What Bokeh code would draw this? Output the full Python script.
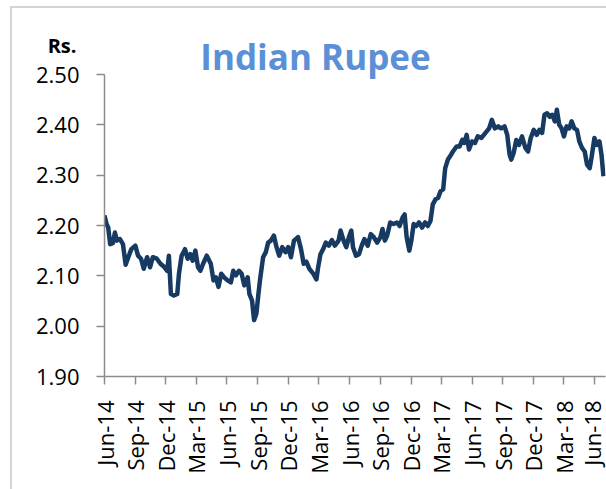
from datetime import datetime
import pandas as pd
from bokeh.plotting import figure
from bokeh.models import (Range1d, FixedTicker, DatetimeTickFormatter, NumeralTickFormatter,
                          Label, ColumnDataSource)
from bokeh.embed import file_html
from bokeh.resources import INLINE

title_text = "Indian Rupee"
unit_text = "Rs."

dates = [
    "2014-06-01", "2014-06-07", "2014-06-12", "2014-06-18", "2014-06-26", "2014-07-02", "2014-07-08",
    "2014-07-17", "2014-07-26", "2014-08-03", "2014-08-11", "2014-08-20", "2014-09-01", "2014-09-09",
    "2014-09-18", "2014-09-26", "2014-10-06", "2014-10-15", "2014-10-23", "2014-11-04", "2014-11-15",
    "2014-11-27", "2014-12-05", "2014-12-10", "2014-12-16", "2014-12-25", "2015-01-04", "2015-01-09",
    "2015-01-17", "2015-01-27", "2015-02-04", "2015-02-12", "2015-02-19", "2015-02-27", "2015-03-07",
    "2015-03-14", "2015-03-22", "2015-04-02", "2015-04-14", "2015-04-22", "2015-04-29", "2015-05-07",
    "2015-05-15", "2015-05-24", "2015-06-03", "2015-06-13", "2015-06-20", "2015-06-28", "2015-07-07",
    "2015-07-15", "2015-07-23", "2015-08-02", "2015-08-07", "2015-08-15", "2015-08-21", "2015-08-28",
    "2015-09-03", "2015-09-08", "2015-09-17", "2015-09-25", "2015-10-02", "2015-10-10", "2015-10-19",
    "2015-10-27", "2015-11-04", "2015-11-13", "2015-11-23", "2015-12-01", "2015-12-09", "2015-12-18",
    "2015-12-30", "2016-01-08", "2016-01-16", "2016-01-24", "2016-02-02", "2016-02-14", "2016-02-23",
    "2016-02-28", "2016-03-06", "2016-03-14", "2016-03-22", "2016-03-31", "2016-04-09", "2016-04-18",
    "2016-04-29", "2016-05-05", "2016-05-14", "2016-05-22", "2016-05-30", "2016-06-06", "2016-06-11",
    "2016-06-20", "2016-06-29", "2016-07-07", "2016-07-15", "2016-07-25", "2016-08-03", "2016-08-12",
    "2016-08-22", "2016-09-01", "2016-09-07", "2016-09-14", "2016-09-21", "2016-09-30", "2016-10-10",
    "2016-10-20", "2016-10-28", "2016-11-06", "2016-11-12", "2016-11-18", "2016-11-26", "2016-12-02",
    "2016-12-09", "2016-12-17", "2016-12-25", "2017-01-03", "2017-01-12", "2017-01-20", "2017-01-28",
    "2017-02-04", "2017-02-12", "2017-02-20", "2017-02-27", "2017-03-07", "2017-03-13", "2017-03-21",
    "2017-03-28", "2017-04-05", "2017-04-16", "2017-04-25", "2017-05-03", "2017-05-09", "2017-05-16",
    "2017-05-23", "2017-06-01", "2017-06-10", "2017-06-18", "2017-06-29", "2017-07-11", "2017-07-22",
    "2017-07-30", "2017-08-08", "2017-08-18", "2017-08-27", "2017-09-06", "2017-09-14", "2017-09-21",
    "2017-09-26", "2017-10-03", "2017-10-11", "2017-10-19", "2017-10-28", "2017-11-07", "2017-11-15",
    "2017-11-23", "2017-12-02", "2017-12-11", "2017-12-19", "2017-12-27", "2018-01-03", "2018-01-11",
    "2018-01-19", "2018-01-26", "2018-02-03", "2018-02-09", "2018-02-16", "2018-02-23", "2018-03-02",
    "2018-03-10", "2018-03-18", "2018-03-25", "2018-04-02", "2018-04-10", "2018-04-17", "2018-04-25",
    "2018-05-03", "2018-05-10", "2018-05-18", "2018-05-24", "2018-06-01", "2018-06-08", "2018-06-16",
    "2018-06-22", "2018-06-28",
]

rupee = [
    2.220, 2.203, 2.196, 2.163, 2.165, 2.186, 2.170,
    2.173, 2.163, 2.122, 2.137, 2.153, 2.160, 2.140,
    2.134, 2.114, 2.137, 2.117, 2.137, 2.134, 2.124,
    2.117, 2.110, 2.140, 2.064, 2.061, 2.064, 2.104,
    2.140, 2.153, 2.134, 2.143, 2.130, 2.150, 2.117,
    2.110, 2.124, 2.140, 2.124, 2.091, 2.097, 2.078,
    2.104, 2.097, 2.091, 2.087, 2.110, 2.101, 2.110,
    2.104, 2.081, 2.097, 2.064, 2.051, 2.012, 2.025,
    2.064, 2.093, 2.137, 2.147, 2.166, 2.170, 2.180,
    2.157, 2.140, 2.157, 2.147, 2.157, 2.137, 2.170,
    2.177, 2.153, 2.124, 2.128, 2.114, 2.104, 2.093,
    2.117, 2.143, 2.153, 2.166, 2.160, 2.171, 2.160,
    2.170, 2.190, 2.170, 2.157, 2.177, 2.190, 2.157,
    2.140, 2.143, 2.160, 2.173, 2.160, 2.183, 2.177,
    2.166, 2.177, 2.193, 2.170, 2.180, 2.206, 2.203,
    2.206, 2.199, 2.216, 2.222, 2.177, 2.150, 2.170,
    2.203, 2.199, 2.206, 2.196, 2.206, 2.199, 2.209,
    2.242, 2.252, 2.255, 2.268, 2.272, 2.314, 2.331,
    2.338, 2.347, 2.357, 2.357, 2.370, 2.364, 2.380,
    2.351, 2.367, 2.364, 2.377, 2.374, 2.384, 2.393,
    2.410, 2.393, 2.397, 2.393, 2.397, 2.380, 2.341,
    2.331, 2.344, 2.370, 2.360, 2.377, 2.354, 2.347,
    2.374, 2.390, 2.380, 2.390, 2.384, 2.420, 2.423,
    2.416, 2.420, 2.407, 2.430, 2.400, 2.393, 2.377,
    2.397, 2.393, 2.407, 2.393, 2.390, 2.367, 2.354,
    2.347, 2.321, 2.314, 2.338, 2.374, 2.360, 2.367,
    2.341, 2.298,
]

tick_dates = ["2014-06-01", "2014-09-01", "2014-12-01", "2015-03-01", "2015-06-01", "2015-09-01",
              "2015-12-01", "2016-03-01", "2016-06-01", "2016-09-01", "2016-12-01", "2017-03-01",
              "2017-06-01", "2017-09-01", "2017-12-01", "2018-03-01", "2018-06-01"]
y_ticks = [1.90, 2.00, 2.10, 2.20, 2.30, 2.40, 2.50]

x_start = "2014-06-01"
x_end = "2018-07-04"

FONT = "Open Sans"
LINE_COLOR = "#173A63"
AXIS_COLOR = "#8C8C8C"
BORDER_COLOR = "#D4D4D4"

src = ColumnDataSource(dict(date=pd.to_datetime(dates), value=rupee))

p = figure(width=606, height=489, output_backend="svg", toolbar_location=None,
           x_axis_type="datetime",
           x_range=Range1d(pd.Timestamp(x_start), pd.Timestamp(x_end)),
           y_range=Range1d(y_ticks[0], y_ticks[-1]),
           min_border_left=104, min_border_right=1, min_border_top=73, min_border_bottom=113)

p.line("date", "value", source=src, line_color=LINE_COLOR, line_width=4.5, line_join="round")

p.xgrid.visible = False
p.ygrid.visible = False
p.outline_line_color = None
p.background_fill_color = "white"
p.border_fill_color = None
p.styles = {
    "background-color": "white",
    "background-image": f"linear-gradient({BORDER_COLOR}, {BORDER_COLOR}), "
                        f"linear-gradient({BORDER_COLOR}, {BORDER_COLOR})",
    "background-position": "10px 6px, 10px 6px",
    "background-size": "2px 100%, 100% 2px",
    "background-repeat": "no-repeat",
}

tick_ms = [pd.Timestamp(d).value / 1e6 for d in tick_dates]
p.xaxis.ticker = FixedTicker(ticks=tick_ms)
fmt = "%b-%y"
p.xaxis.formatter = DatetimeTickFormatter(milliseconds=fmt, seconds=fmt, minsec=fmt, minutes=fmt,
                                          hourmin=fmt, hours=fmt, days=fmt, months=fmt, years=fmt)
p.xaxis.major_label_orientation = 1.5707963
p.yaxis.ticker = FixedTicker(ticks=y_ticks)
p.yaxis.formatter = NumeralTickFormatter(format="0.00")

for ax in (p.xaxis, p.yaxis):
    ax.axis_line_color = AXIS_COLOR
    ax.axis_line_width = 1.5
    ax.major_tick_line_color = AXIS_COLOR
    ax.major_tick_line_width = 1.5
    ax.major_tick_in = 0
    ax.major_tick_out = 8
    ax.minor_tick_line_color = None
    ax.major_label_text_font = FONT
    ax.major_label_text_font_size = "22px"
    ax.major_label_text_color = "#000000"
p.yaxis.major_label_standoff = 17
p.xaxis.major_label_standoff = 16

p.add_layout(Label(x=pd.Timestamp(x_start), y=y_ticks[-1], x_offset=211, y_offset=18,
                   text=title_text, text_align="center", text_baseline="alphabetic",
                   text_font=FONT, text_font_style="bold", text_font_size="35px",
                   text_color="#5B8FD6"), "above")
p.add_layout(Label(x=pd.Timestamp(x_start), y=y_ticks[-1], x_offset=-28, y_offset=29,
                   text=unit_text, text_align="right", text_baseline="alphabetic",
                   text_font=FONT, text_font_style="bold", text_font_size="20px",
                   text_color="#000000"), "above")

open("out.html", "w").write(file_html(p, INLINE))
